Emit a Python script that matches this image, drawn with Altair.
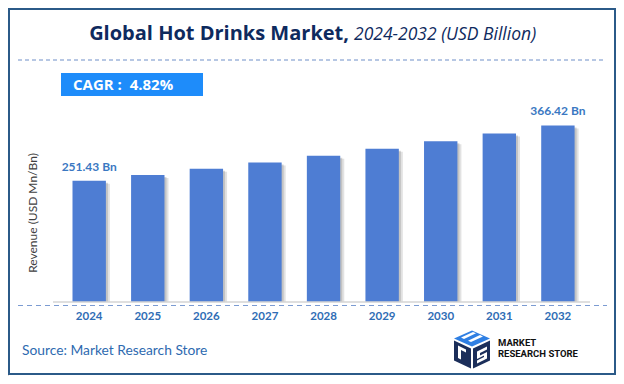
import altair as alt
import pandas as pd

# ---- data ----
years = ["2024", "2025", "2026", "2027", "2028", "2029", "2030", "2031", "2032"]
revenue = [251.43, 263.6, 276.3, 289.6, 303.5, 318.2, 333.5, 349.6, 366.42]
value_labels = ["251.43 Bn", "", "", "", "", "", "", "", "366.42 Bn"]

title_main = "Global Hot Drinks Market,"
title_sub = "2024-2032 (USD Billion)"
cagr_text = "CAGR :\u00a0 4.82%"
y_title = "Revenue (USD Mn/Bn)"
source_text = "Source: Market Research Store"
logo_line1 = "MARKET"
logo_line2 = "RESEARCH STORE"

df = pd.DataFrame({"year": years, "revenue": revenue, "label": value_labels})

FONT = "Lato"
TFONT = "Open Sans"
W, H = 608, 368

xscale = alt.Scale(range=[51.9, 579.2], paddingInner=0.43, paddingOuter=0.215)
yscale = alt.Scale(domain=[0, 400], range=[294, 101.2], nice=False, zero=True)

X = alt.X("year:N", scale=xscale, axis=None, sort=years)
Y = alt.Y("revenue:Q", scale=yscale, axis=None)


def one(text=""):
    return alt.Data(values=[{"t": text}])


# border
border = alt.Chart(one()).mark_rect(
    fill="white", stroke="#2B5A88", strokeWidth=2
).encode(x=alt.value(1), x2=alt.value(607), y=alt.value(1), y2=alt.value(366))

# title
t1 = alt.Chart(one(title_main)).mark_text(
    font=TFONT, fontSize=20, fontWeight="bold", color="#0E2A5E",
    align="right", baseline="alphabetic"
).encode(text="t:N", x=alt.value(341), y=alt.value(32))
t2 = alt.Chart(one(title_sub)).mark_text(
    font=TFONT, fontSize=17.5, fontStyle="italic", color="#0E2A5E",
    align="left", baseline="alphabetic"
).encode(text="t:N", x=alt.value(346), y=alt.value(32))

# dashed separator under title
sep = alt.Chart(one()).mark_rule(
    color="#6F8FC8", strokeDash=[4, 3], strokeWidth=1
).encode(x=alt.value(10), x2=alt.value(598), y=alt.value(52))

# CAGR box
cagr_box = alt.Chart(one()).mark_rect(color="#1E8CFA").encode(
    x=alt.value(53), x2=alt.value(195), y=alt.value(65), y2=alt.value(88)
)
cagr_lbl = alt.Chart(one(cagr_text)).mark_text(
    font=TFONT, fontSize=15, fontWeight="bold", color="white",
    align="left", baseline="middle"
).encode(text="t:N", x=alt.value(65), y=alt.value(77))

# y axis title
ytitle = alt.Chart(one(y_title)).mark_text(
    font=FONT, fontSize=12, color="#404040", angle=270,
    align="center", baseline="middle"
).encode(text="t:N", x=alt.value(25), y=alt.value(205))

base = alt.Chart(df)

shadow1 = base.mark_bar(color="#7a7a7a", opacity=0.22, xOffset=4, yOffset=3).encode(
    x=X, y=Y, y2=alt.datum(0)
)
shadow2 = base.mark_bar(color="#7a7a7a", opacity=0.3, xOffset=2, yOffset=2).encode(
    x=X, y=Y, y2=alt.datum(0)
)
bars = base.mark_bar(color="#4E7DD3").encode(x=X, y=Y, y2=alt.datum(0))

vlabels = base.mark_text(
    font=FONT, fontSize=12, fontWeight="bold", color="#3A78C2",
    baseline="middle", dy=-14
).encode(x=X, y=Y, text="label:N")

# baseline lines
gray_line = alt.Chart(one()).mark_rule(color="#D4D4D4", strokeWidth=1.5).encode(
    x=alt.value(45), x2=alt.value(582), y=alt.value(294)
)
blue_dash = alt.Chart(one()).mark_rule(
    color="#7B9BD2", strokeDash=[5, 4], strokeWidth=1.2
).encode(x=alt.value(10), x2=alt.value(599), y=alt.value(297.5))

ylabels = base.mark_text(
    font=FONT, fontSize=11.5, fontWeight="bold", color="#2F6DB5",
    baseline="middle"
).encode(x=X, y=alt.value(309), text="year:N")

# source
source = alt.Chart(one(source_text)).mark_text(
    font=FONT, fontSize=13.8, color="#2E6AB0", align="left", baseline="middle"
).encode(text="t:N", x=alt.value(14), y=alt.value(343))

# logo icon (approximate cube)
left_face = "M -0.9 -0.45 L -0.05 -0.05 L -0.05 0.95 L -0.9 0.55 Z"
right_face = "M 0.05 -0.05 L 0.9 -0.45 L 0.9 0.55 L 0.05 0.95 Z"
top_face = "M -0.9 -0.55 L 0 -0.95 L 0.9 -0.55 L 0 -0.15 Z"
stripes = ("M -0.55 -0.6 L 0.05 -0.88 L 0.2 -0.81 L -0.4 -0.53 Z "
           "M -0.2 -0.44 L 0.4 -0.72 L 0.55 -0.65 L -0.05 -0.37 Z")
s_mark = ("M 0.25 0.1 L 0.75 -0.15 L 0.75 0.0 L 0.4 0.17 L 0.4 0.3 L 0.75 0.13 "
          "L 0.75 0.45 L 0.25 0.7 L 0.25 0.55 L 0.6 0.38 L 0.6 0.3 L 0.25 0.47 Z")
r_mark = "M -0.7 -0.2 L -0.3 0.0 L -0.3 0.15 L -0.55 0.03 L -0.55 0.5 L -0.7 0.43 Z"


def icon(path, color):
    return alt.Chart(one()).mark_point(
        shape=path, filled=True, color=color, opacity=1, size=1600, strokeWidth=0
    ).encode(x=alt.value(464), y=alt.value(341.5))


logo = [
    icon(left_face, "#1B2E5A"),
    icon(right_face, "#1B2E5A"),
    icon(top_face, "#2F7FE3"),
    icon(stripes, "#FFFFFF"),
    icon(s_mark, "#FFFFFF"),
    icon(r_mark, "#FFFFFF"),
]
logo_t1 = alt.Chart(one(logo_line1)).mark_text(
    font="Roboto", fontSize=9.5, fontWeight="bold", color="#111111",
    align="left", baseline="middle"
).encode(text="t:N", x=alt.value(490), y=alt.value(334.5))
logo_t2 = alt.Chart(one(logo_line2)).mark_text(
    font="Roboto", fontSize=9.5, fontWeight="bold", color="#111111",
    align="left", baseline="middle"
).encode(text="t:N", x=alt.value(490), y=alt.value(345.5))

chart = alt.layer(
    border, t1, t2, sep, cagr_box, cagr_lbl, ytitle,
    shadow1, shadow2, bars, vlabels, gray_line, blue_dash, ylabels,
    source, *logo, logo_t1, logo_t2
).properties(
    width=W, height=H, autosize=alt.AutoSizeParams(type="none"), padding=0
).configure_view(stroke=None).configure(background="white")

chart.save("out.html", embed_options={"renderer": "svg", "actions": False})
